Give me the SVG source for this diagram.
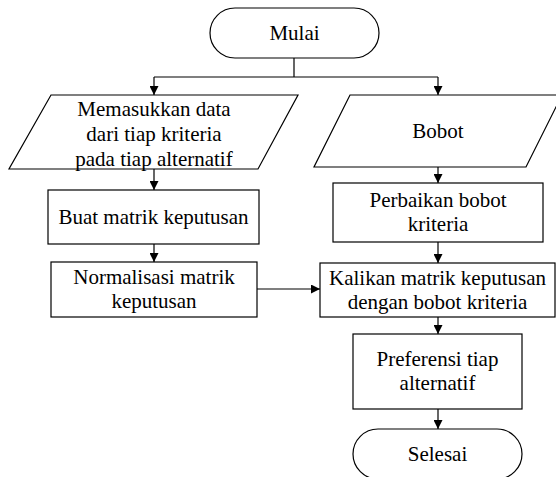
<svg xmlns="http://www.w3.org/2000/svg" width="556" height="477" viewBox="0 0 556 477">
<style>
.s{fill:#fff;stroke:#000;stroke-width:1.2}
.t{font-family:"Liberation Serif","Times New Roman",serif;font-size:21px;fill:#000;text-anchor:middle}
.c{fill:none;stroke:#000;stroke-width:1.2}
</style>
<defs>
<marker id="ar" viewBox="0 0 10 10" refX="10" refY="5" markerWidth="9" markerHeight="9" markerUnits="userSpaceOnUse" orient="auto">
<path d="M0,0 L10,5 L0,10 z" fill="#000"/>
</marker>
</defs>
<rect width="556" height="477" fill="#fff"/>
<g id="connectors">
<path class="c" d="M294,58 V77 M154,77 H438"/>
<path class="c" d="M154,77 V95" marker-end="url(#ar)"/>
<path class="c" d="M438,77 V95" marker-end="url(#ar)"/>
<path class="c" d="M154,169 V190" marker-end="url(#ar)"/>
<path class="c" d="M154,244 V262" marker-end="url(#ar)"/>
<path class="c" d="M438,167 V183" marker-end="url(#ar)"/>
<path class="c" d="M438,242 V263" marker-end="url(#ar)"/>
<path class="c" d="M257,289 H320" marker-end="url(#ar)"/>
<path class="c" d="M438,317 V334" marker-end="url(#ar)"/>
<path class="c" d="M438,409 V429" marker-end="url(#ar)"/>
</g>
<g id="mulai">
<rect class="s" x="210" y="8" width="169" height="50" rx="25"/>
<text class="t" x="294.5" y="40">Mulai</text>
</g>
<g id="input-data">
<polygon class="s" points="51,95 298,95 258,169 9,169"/>
<text class="t" x="154" y="116">Memasukkan data</text>
<text class="t" x="154" y="141">dari tiap kriteria</text>
<text class="t" x="154" y="166">pada tiap alternatif</text>
</g>
<g id="bobot">
<polygon class="s" points="350,95 562,95 526,167 314,167"/>
<text class="t" x="438" y="138">Bobot</text>
</g>
<g id="buat-matrik">
<rect class="s" x="48" y="190" width="211" height="54"/>
<text class="t" x="153.5" y="224">Buat matrik keputusan</text>
</g>
<g id="normalisasi">
<rect class="s" x="51" y="262" width="206" height="55"/>
<text class="t" x="154" y="284">Normalisasi matrik</text>
<text class="t" x="154" y="308">keputusan</text>
</g>
<g id="perbaikan">
<rect class="s" x="333" y="183" width="210" height="59"/>
<text class="t" x="438" y="207">Perbaikan bobot</text>
<text class="t" x="438" y="231">kriteria</text>
</g>
<g id="kalikan">
<rect class="s" x="320" y="263" width="235" height="54"/>
<text class="t" x="437.5" y="285">Kalikan matrik keputusan</text>
<text class="t" x="437.5" y="309">dengan bobot kriteria</text>
</g>
<g id="preferensi">
<rect class="s" x="353" y="334" width="169" height="75"/>
<text class="t" x="437.5" y="366">Preferensi tiap</text>
<text class="t" x="437.5" y="390">alternatif</text>
</g>
<g id="selesai">
<rect class="s" x="353" y="429" width="169" height="50" rx="25"/>
<text class="t" x="437.5" y="461">Selesai</text>
</g>
</svg>
